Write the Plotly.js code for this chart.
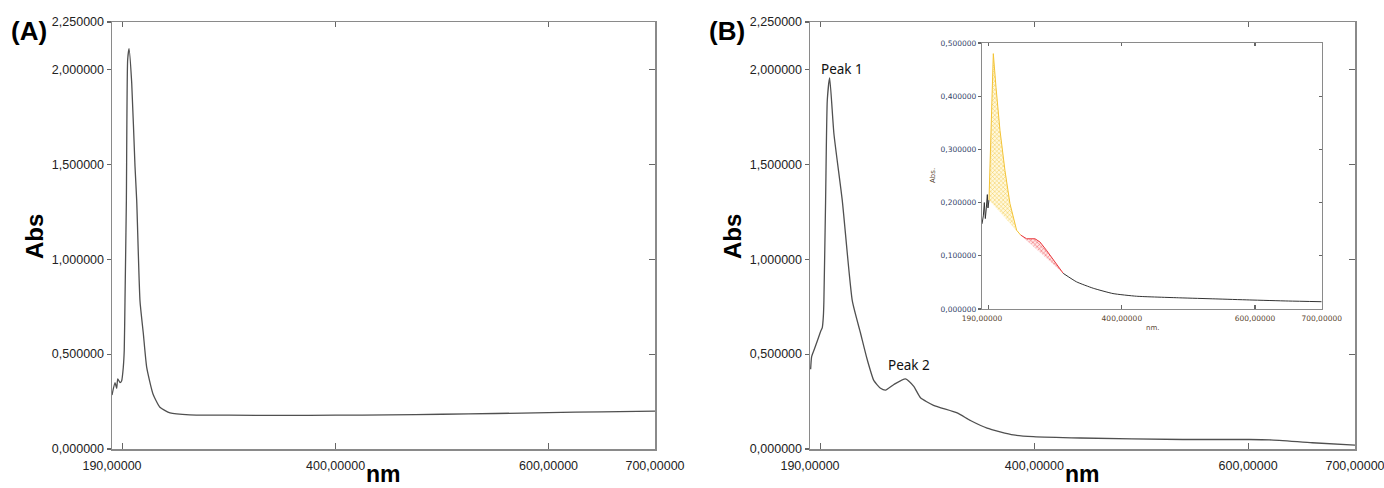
<!DOCTYPE html>
<html>
<head>
<meta charset="utf-8">
<script src="https://cdn.plot.ly/plotly-3.0.1.min.js"></script>
<style>html,body{margin:0;padding:0;background:#fff;}#chart{width:1384px;height:488px;}</style>
</head>
<body>
<div id="chart"></div>
<script>
// ---- Panel A spectrum ----
const wavelengthA = [190, 192.8, 194.4, 195.4, 197.5, 199.1, 200.6, 201.5, 202.2, 203.5, 204.7, 206, 208.5, 211.6, 213.2, 216.3, 219.4, 222.6, 228.5, 235, 244.5, 263, 300, 350, 400, 450, 500, 550, 600, 650, 700];
const absA        = [0.284, 0.35, 0.32, 0.37, 0.35, 0.36, 0.43, 0.52, 0.78, 1.31, 2.05, 2.11, 1.93, 1.49, 1.31, 0.78, 0.61, 0.43, 0.29, 0.22, 0.19, 0.18, 0.178, 0.177, 0.178, 0.18, 0.183, 0.187, 0.192, 0.196, 0.2];

// ---- Panel B spectrum ----
const wavelengthB = [190.6, 191.5, 193.7, 196.9, 200, 201.5, 202.5, 203, 204.6, 206.2, 208.4, 212.4, 220.2, 229.6, 237.3, 243.6, 249.8, 256, 260.7, 268.5, 279.4, 287.1, 293.4, 305.6, 327.7, 340.1, 355.7, 380.3, 399, 443, 539, 601, 620, 660, 700];
const absB        = [0.42, 0.486, 0.52, 0.57, 0.62, 0.64, 0.70, 0.78, 1.31, 1.84, 1.956, 1.66, 1.31, 0.78, 0.61, 0.47, 0.36, 0.32, 0.31, 0.34, 0.37, 0.33, 0.27, 0.23, 0.19, 0.15, 0.11, 0.074, 0.065, 0.058, 0.05, 0.05, 0.048, 0.033, 0.02];

// ---- Inset spectrum (segments) ----
const insetStartWl  = [190, 192, 193.5, 195, 196.5, 198, 199, 200.5];
const insetStartAbs = [0.16, 0.175, 0.2, 0.17, 0.19, 0.215, 0.19, 0.205];
const insetYellowWl  = [200.5, 203, 207, 211, 217, 224.5, 232, 242, 248];
const insetYellowAbs = [0.205, 0.32, 0.48, 0.417, 0.336, 0.26, 0.198, 0.148, 0.139];
const insetRedWl  = [248, 257, 269.6, 277, 287, 297, 312];
const insetRedAbs = [0.139, 0.132, 0.132, 0.126, 0.11, 0.092, 0.067];
const insetTailWl  = [312, 332, 357, 386.7, 422, 487, 540, 592, 650, 700];
const insetTailAbs = [0.067, 0.051, 0.039, 0.029, 0.024, 0.021, 0.019, 0.017, 0.015, 0.0137];

// ---- Tick labels ----
const xTickVals = [190, 200, 400, 600, 700];
const xTickText = ["190,00000", "", "400,00000", "600,00000", "700,00000"];
const mainYVals = [0, 0.5, 1, 1.5, 2, 2.25];
const mainYText = ["0,000000", "0,500000", "1,000000", "1,500000", "2,000000", "2,250000"];
const insetYVals = [0, 0.1, 0.2, 0.3, 0.4, 0.5];
const insetYText = ["0,000000", "0,100000", "0,200000", "0,300000", "0,400000", "0,500000"];
const innerTickVals = [200, 400, 600];

const W = 1384, H = 488;
const px = v => v / W, py = v => 1 - v / H;

const lineCol = '#505050';
const axCol = '#8a8a8a';
const font = 'Liberation Sans, Arial, sans-serif';

const traces = [
  {x: wavelengthA, y: absA, xaxis: 'x', yaxis: 'y', mode: 'lines', line: {color: lineCol, width: 1.3, shape: 'spline', smoothing: 0.5}},
  {x: wavelengthB, y: absB, xaxis: 'x2', yaxis: 'y2', mode: 'lines', line: {color: lineCol, width: 1.3, shape: 'spline', smoothing: 0.5}},
  {x: insetStartWl, y: insetStartAbs, xaxis: 'x3', yaxis: 'y3', mode: 'lines', line: {color: '#333', width: 1}},
  {x: insetYellowWl, y: insetYellowAbs, xaxis: 'x3', yaxis: 'y3', mode: 'lines', fill: 'toself',
   fillcolor: 'rgba(255,235,150,0.5)', line: {color: '#f3c335', width: 1},
   fillpattern: {shape: 'x', fgcolor: '#f0bd2a', bgcolor: 'rgba(255,245,200,0.6)', size: 3, solidity: 0.25}},
  {x: insetRedWl, y: insetRedAbs, xaxis: 'x3', yaxis: 'y3', mode: 'lines', fill: 'toself',
   fillcolor: 'rgba(240,120,120,0.5)', line: {color: '#e8383d', width: 1},
   fillpattern: {shape: 'x', fgcolor: '#e8383d', bgcolor: 'rgba(255,215,215,0.6)', size: 3, solidity: 0.25}},
  {x: insetTailWl, y: insetTailAbs, xaxis: 'x3', yaxis: 'y3', mode: 'lines', line: {color: '#333', width: 1, shape: 'spline', smoothing: 0.5}},
  {x: [], y: [], xaxis: 'x4', yaxis: 'y4', mode: 'lines'},
  {x: [], y: [], xaxis: 'x5', yaxis: 'y5', mode: 'lines'},
  {x: [], y: [], xaxis: 'x6', yaxis: 'y6', mode: 'lines'}
].map(t => Object.assign({hoverinfo: 'skip', showlegend: false}, t));

function mainX(domain, anchor) {
  return {domain: domain, anchor: anchor, range: [190, 700], tickmode: 'array', tickvals: xTickVals, ticktext: xTickText,
    ticks: 'inside', ticklen: 6, tickwidth: 1.2, tickcolor: '#666', showline: true, linecolor: axCol, linewidth: 1.5,
    mirror: true, showgrid: false, zeroline: false, ticklabelstandoff: 4, ticklabeloverflow: 'allow',
    tickfont: {family: font, size: 12.5, color: '#222'}, fixedrange: true};
}
function mainY(domain, anchor) {
  return {domain: domain, anchor: anchor, range: [0, 2.25], tickmode: 'array', tickvals: mainYVals, ticktext: mainYText,
    ticks: 'outside', ticklen: 4, tickwidth: 1.2, tickcolor: '#666', showline: true, linecolor: axCol, linewidth: 1.5,
    mirror: true, showgrid: false, zeroline: false, ticklabelstandoff: 0, ticklabeloverflow: 'allow',
    tickfont: {family: font, size: 12.5, color: '#222'}, fixedrange: true};
}
function topX(over, anchor, len) {
  return {overlaying: over, anchor: anchor, side: 'top', range: [190, 700], tickmode: 'array', tickvals: innerTickVals,
    ticks: 'inside', ticklen: len, tickwidth: 1.2, tickcolor: '#666', showticklabels: false, showline: false,
    showgrid: false, zeroline: false, fixedrange: true};
}
function rightY(over, anchor, range, vals, len) {
  return {overlaying: over, anchor: anchor, side: 'right', range: range, tickmode: 'array', tickvals: vals,
    ticks: 'inside', ticklen: len, tickwidth: 1.2, tickcolor: '#666', showticklabels: false, showline: false,
    showgrid: false, zeroline: false, fixedrange: true};
}

const domAx = [px(112), px(655)], domBx = [px(810), px(1355)], domY = [py(449), py(22)];
const domIx = [px(982), px(1321.7)], domIy = [py(309), py(43)];

const layout = {
  width: W, height: H, margin: {l: 0, r: 0, t: 0, b: 0},
  paper_bgcolor: '#fff', plot_bgcolor: 'rgba(0,0,0,0)', showlegend: false,
  xaxis: mainX(domAx, 'y'),
  yaxis: mainY(domY, 'x'),
  xaxis2: mainX(domBx, 'y2'),
  yaxis2: mainY(domY, 'x2'),
  xaxis3: Object.assign(mainX(domIx, 'y3'), {ticklen: 4, linewidth: 1.2, ticklabelstandoff: 2,
    tickfont: {family: 'DejaVu Sans, sans-serif', size: 7.5, color: '#5a4630'}}),
  yaxis3: Object.assign(mainY(domIy, 'x3'), {range: [0, 0.5], tickvals: insetYVals, ticktext: insetYText, ticklen: 3,
    linewidth: 1.2, tickfont: {family: 'DejaVu Sans, sans-serif', size: 7.5, color: '#34456a'}}),
  xaxis4: topX('x', 'y', 5),
  yaxis4: rightY('y', 'x', [0, 2.25], [0.5, 1, 1.5, 2], 6),
  xaxis5: topX('x2', 'y2', 5),
  yaxis5: rightY('y2', 'x2', [0, 2.25], [0.5, 1, 1.5, 2], 6),
  xaxis6: topX('x3', 'y3', 3),
  yaxis6: rightY('y3', 'x3', [0, 0.5], [0.1, 0.2, 0.3, 0.4], 3),
  annotations: [
    {text: '<b>(A)</b>', xref: 'paper', yref: 'paper', x: px(29), y: py(31), xanchor: 'center', yanchor: 'middle',
     showarrow: false, font: {family: font, size: 26, color: '#000'}},
    {text: '<b>(B)</b>', xref: 'paper', yref: 'paper', x: px(727), y: py(31), xanchor: 'center', yanchor: 'middle',
     showarrow: false, font: {family: font, size: 26, color: '#000'}},
    {text: '<b>Abs</b>', xref: 'paper', yref: 'paper', x: px(35), y: py(237), xanchor: 'center', yanchor: 'middle',
     textangle: -90, showarrow: false, font: {family: font, size: 24, color: '#000'}},
    {text: '<b>Abs</b>', xref: 'paper', yref: 'paper', x: px(733), y: py(237), xanchor: 'center', yanchor: 'middle',
     textangle: -90, showarrow: false, font: {family: font, size: 24, color: '#000'}},
    {text: '<b>nm</b>', xref: 'paper', yref: 'paper', x: px(383.5), y: 0, xanchor: 'center', yanchor: 'bottom',
     showarrow: false, borderpad: 0, font: {family: font, size: 23, color: '#000'}},
    {text: '<b>nm</b>', xref: 'paper', yref: 'paper', x: px(1082.5), y: 0, xanchor: 'center', yanchor: 'bottom',
     showarrow: false, borderpad: 0, font: {family: font, size: 23, color: '#000'}},
    {text: 'Peak 1', xref: 'x2', yref: 'y2', x: 219.6, y: 2.0, xanchor: 'center', yanchor: 'middle',
     showarrow: false, font: {family: 'Noto Sans, sans-serif', size: 13.5, color: '#111'}},
    {text: 'Peak 2', xref: 'x2', yref: 'y2', x: 283, y: 0.442, xanchor: 'center', yanchor: 'middle',
     showarrow: false, font: {family: 'Noto Sans, sans-serif', size: 13.5, color: '#111'}},
    {text: 'Abs.', xref: 'paper', yref: 'paper', x: px(933), y: py(176), xanchor: 'center', yanchor: 'middle',
     textangle: -90, showarrow: false, font: {family: 'DejaVu Sans, sans-serif', size: 7, color: '#5a4630'}},
    {text: 'nm.', xref: 'paper', yref: 'paper', x: px(1152), y: py(328), xanchor: 'center', yanchor: 'middle',
     showarrow: false, font: {family: 'DejaVu Sans, sans-serif', size: 7, color: '#5a4630'}}
  ]
};

Plotly.newPlot('chart', traces, layout, {displayModeBar: false, staticPlot: true});
</script>
</body>
</html>
